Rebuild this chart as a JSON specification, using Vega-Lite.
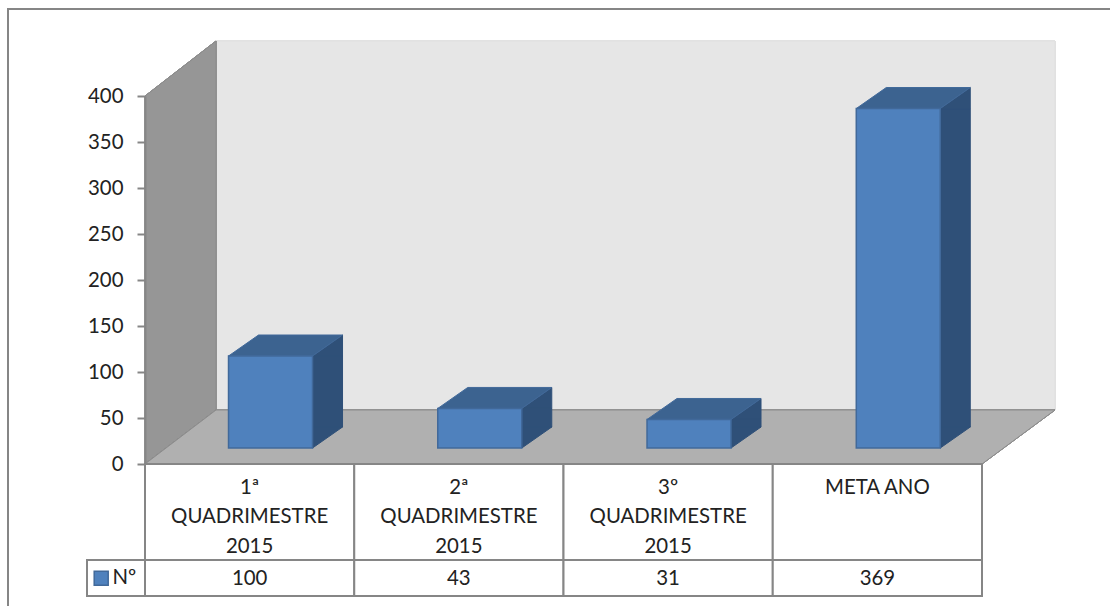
{"$schema":"https://vega.github.io/schema/vega-lite/v6.json","width":837,"height":368,"autosize":{"type":"none"},"padding":{"left":145,"top":96,"right":128,"bottom":142},"background":"#ffffff","view":{"stroke":null},"config":{"view":{"stroke":null},"font":"Lato"},"data":{"values":[{"period":"1ª QUADRIMESTRE 2015","value":100,"series":"Nº"},{"period":"2ª QUADRIMESTRE 2015","value":43,"series":"Nº"},{"period":"3º QUADRIMESTRE 2015","value":31,"series":"Nº"},{"period":"META ANO","value":369,"series":"Nº"}]},"encoding":{"x":{"field":"period","type":"nominal","sort":null,"scale":{"paddingInner":0,"paddingOuter":0},"axis":{"title":null,"labelAngle":0,"domain":false,"ticks":false,"zindex":1,"labelFont":"Lato","labelFontSize":20.4,"labelColor":"#222222","labelLineHeight":29.5,"labelPadding":13,"labelLimit":300,"labelExpr":"datum.label == 'META ANO' ? datum.label : split(datum.label, ' ')"}}},"layer":[{"mark":{"type":"point","size":4,"opacity":1,"filled":false,"fill":"transparent","stroke":"#868686","strokeWidth":2,"shape":"M-137 142V-455H965"},"encoding":{"x":{"datum":"1ª QUADRIMESTRE 2015","bandPosition":0},"y":{"datum":0}}},{"mark":{"type":"point","size":4,"opacity":1,"filled":true,"fill":"#E6E6E6","stroke":"#E0E0E0","strokeWidth":1,"shape":"M71 -423H910V-54H71Z"},"encoding":{"x":{"datum":"1ª QUADRIMESTRE 2015","bandPosition":0},"y":{"datum":0}}},{"mark":{"type":"point","size":4,"opacity":1,"filled":true,"fill":"#969696","stroke":"#8C8C8C","strokeWidth":1,"shape":"M0 -368L71 -423V-54L0 0Z"},"encoding":{"x":{"datum":"1ª QUADRIMESTRE 2015","bandPosition":0},"y":{"datum":0}}},{"mark":{"type":"point","size":4,"opacity":1,"filled":true,"fill":"#B0B0B0","stroke":"#8C8C8C","strokeWidth":1,"shape":"M0 0L71 -54H910L837 0Z"},"encoding":{"x":{"datum":"1ª QUADRIMESTRE 2015","bandPosition":0},"y":{"datum":0}}},{"mark":{"type":"bar","fill":"#ffffff","stroke":"#868686","strokeWidth":2,"width":{"band":1}},"encoding":{"y":{"datum":0},"y2":{"datum":-104.3}}},{"mark":{"type":"bar","fill":"#ffffff","stroke":"#868686","strokeWidth":2,"width":{"band":1}},"encoding":{"y":{"datum":-104.3},"y2":{"datum":-143.5}}},{"mark":{"type":"point","size":4,"opacity":1,"filled":true,"fill":"#ffffff","stroke":"#868686","strokeWidth":2,"shape":"M-58 96V132H0V96Z"},"encoding":{"x":{"datum":"1ª QUADRIMESTRE 2015","bandPosition":0},"y":{"datum":0}}},{"mark":{"type":"bar","fill":"#2F5078","stroke":"#2F5078","strokeWidth":1,"width":30,"xOffset":77.9,"yOffset":-16,"y2Offset":-37},"encoding":{"y":{"field":"value","type":"quantitative","scale":{"domain":[0,400],"nice":false},"axis":{"title":null,"grid":false,"values":[0,50,100,150,200,250,300,350,400],"domainColor":"#868686","domainWidth":2,"tickColor":"#868686","tickWidth":2,"tickSize":8,"labelFont":"Lato","labelFontSize":20.4,"labelColor":"#222222","labelPadding":14,"zindex":1}},"y2":{"datum":0}}},{"mark":{"type":"point","size":4,"opacity":1,"filled":true,"fill":"#2F5078","stroke":"#2F5078","strokeWidth":1,"xOffset":20.9,"yOffset":-16,"shape":"M42 0L72 -21V0Z"},"encoding":{"y":{"field":"value","type":"quantitative"}}},{"mark":{"type":"point","size":4,"opacity":1,"filled":true,"fill":"#2F5078","stroke":"#2F5078","strokeWidth":1,"xOffset":20.9,"yOffset":-16,"shape":"M42 0V-21H72Z"},"encoding":{"y":{"datum":0}}},{"mark":{"type":"point","size":4,"opacity":1,"filled":true,"fill":"#3C6390","stroke":"#41699A","strokeWidth":1,"xOffset":20.9,"yOffset":-16,"shape":"M-42 0L-12 -21H72L42 0Z"},"encoding":{"y":{"field":"value","type":"quantitative"}}},{"mark":{"type":"bar","stroke":"#41699A","strokeWidth":1.5,"width":84,"xOffset":20.9,"yOffset":-16,"y2Offset":-16},"encoding":{"y":{"field":"value","type":"quantitative"},"y2":{"datum":0},"color":{"field":"series","type":"nominal","scale":{"range":["#4F81BD"]},"legend":{"orient":"none","legendX":-54,"legendY":472,"title":null,"symbolType":"square","symbolSize":196,"symbolStrokeColor":"#41699A","symbolStrokeWidth":1.5,"labelFont":"Lato","labelFontSize":20.4,"labelColor":"#222222","labelOffset":1}}}},{"mark":{"type":"text","font":"Lato","fontSize":20.4,"color":"#222222"},"encoding":{"y":{"datum":-125},"text":{"field":"value","type":"quantitative"}}}]}
